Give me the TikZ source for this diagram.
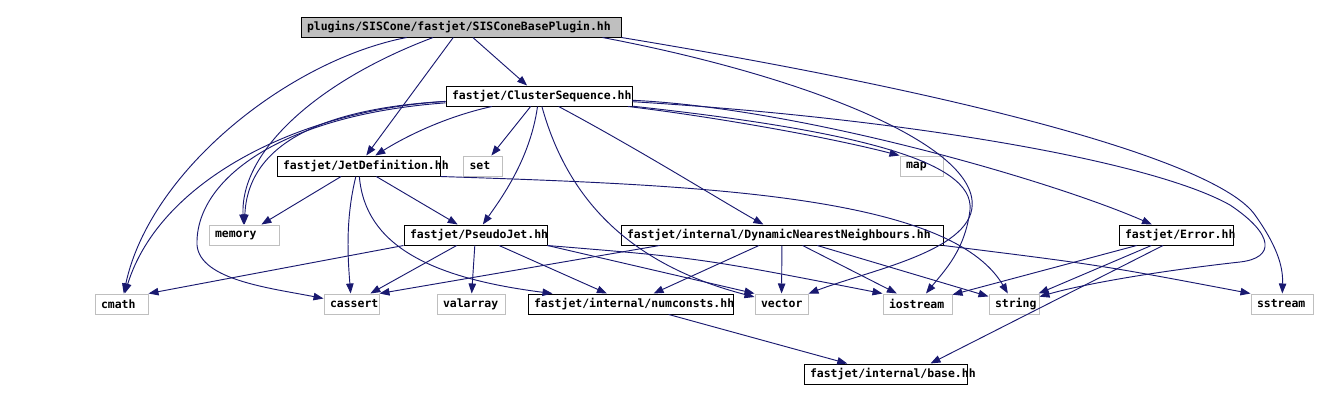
\documentclass[tikz,border=0pt]{standalone}
\usepackage{fontspec}
\usepackage{tikz}
\usetikzlibrary{arrows.meta,calc}
\newfontfamily\graphfont{DejaVu Sans Mono}
\definecolor{depblue}{HTML}{191970}
\definecolor{boxgray}{HTML}{BFBFBF}
\tikzstyle{every node}=[font=\graphfont\bfseries\fontsize{8.6}{10}\selectfont]
\tikzstyle{hfile}=[draw=black,line width=0.75pt,minimum height=15pt,inner xsep=4.5pt,inner ysep=0pt,align=left]
\tikzstyle{srcfile}=[hfile,fill=boxgray]
\tikzstyle{sysfile}=[hfile,draw=boxgray]
\tikzstyle{dep}=[draw=depblue,line width=0.7pt,-{Triangle[length=7.5pt,width=5.6pt]}]
\tikzstyle{every edge}=[dep]

\begin{document}
\begin{tikzpicture}[x=0.75pt,y=-0.75pt]
  \useasboundingbox (0,0) rectangle (1340,401);

  % project headers
  \node[srcfile,text width=231pt]    (S)  at (461,27)  {plugins/SISCone/fastjet/SISConeBasePlugin.hh};
  \node[hfile,text width=130.5pt]    (CS) at (539,96)  {fastjet/ClusterSequence.hh};
  \node[hfile,text width=113.25pt]   (JD) at (358.5,166) {fastjet/JetDefinition.hh};
  \node[hfile,text width=98.25pt]    (PJ) at (475.5,235) {fastjet/PseudoJet.hh};
  \node[hfile,text width=232.5pt]    (DNN) at (782,235) {fastjet/internal/DynamicNearestNeighbours.hh};
  \node[hfile,text width=76.5pt]     (Error) at (1176,235) {fastjet/Error.hh};
  \node[hfile,text width=144.75pt]   (numconsts) at (630.5,304) {fastjet/internal/numconsts.hh};
  \node[hfile,text width=113.25pt]   (base) at (885.5,374) {fastjet/internal/base.hh};

  % system headers
  \node[sysfile,text width=20.25pt] (set)      at (483,166)   {set};
  \node[sysfile,text width=23.25pt] (map)      at (921.5,166) {map};
  \node[sysfile,text width=43.5pt]  (memory)   at (244,235)   {memory};
  \node[sysfile,text width=30.75pt] (cmath)    at (121.5,304) {cmath};
  \node[sysfile,text width=32.25pt] (cassert)  at (351.5,304) {cassert};
  \node[sysfile,text width=42pt]    (valarray) at (471,304)   {valarray};
  \node[sysfile,text width=30.75pt] (vector)   at (781.5,304) {vector};
  \node[sysfile,text width=42.75pt] (iostream) at (917.5,304) {iostream};
  \node[sysfile,text width=28.5pt]  (string)   at (1014,304)  {string};
  \node[sysfile,text width=37.5pt]  (sstream)  at (1282,304)  {sstream};

  % SISConeBasePlugin.hh
  \path (S) edge (CS)
            edge (JD);
  \draw[dep] (S) .. controls (290,60) and (150,170) .. (cmath);
  \draw[dep] (S) .. controls (320,80) and (240,150) .. (memory);
  \draw[dep] ($(S.south east)+(-19,0)$) .. controls (800,75) and (965,140) .. (972,200)
             .. controls (978,250) and (870,270) .. (vector);
  \draw[dep] (S.south east) .. controls (1000,100) and (1220,165) .. (1255,215)
             .. controls (1280,250) and (1283,270) .. (sstream);

  % ClusterSequence.hh
  \path (CS) edge (set);
  \draw[dep] (CS) .. controls (440,118) and (400,140) .. (JD);
  \draw[dep] (CS) .. controls (330,108) and (248,140) .. (memory);
  \draw[dep] (CS) .. controls (300,110) and (160,180) .. (cmath);
  \draw[dep] (CS) .. controls (280,115) and (195,180) .. (197,245)
             .. controls (200,280) and (270,288) .. (cassert);
  \draw[dep] (CS) .. controls (530,160) and (500,200) .. (PJ);
  \draw[dep] (CS) .. controls (565,190) and (620,262) .. (vector);
  \draw[dep] (CS) .. controls (640,150) and (720,200) .. (DNN);
  \draw[dep] (CS) .. controls (700,115) and (820,135) .. (map.north west);
  \draw[dep] (CS) .. controls (800,108) and (1050,180) .. (Error);
  \draw[dep] (CS) .. controls (850,130) and (975,160) .. (970,210)
             .. controls (965,250) and (945,270) .. (iostream);
  \draw[dep] (CS) .. controls (900,118) and (1150,160) .. (1230,205)
             .. controls (1275,235) and (1275,258) .. (1240,262)
             .. controls (1150,272) and (1080,285) .. (string);

  % JetDefinition.hh
  \path (JD) edge (memory)
             edge (PJ);
  \draw[dep] (JD) .. controls (345,220) and (348,260) .. (cassert);
  \draw[dep] (JD) .. controls (365,245) and (430,278) .. ($(numconsts.north west)+(25,0)$);
  \draw[dep] (JD.south east) .. controls (700,185) and (950,195) .. (string);

  % PseudoJet.hh
  \path (PJ) edge (cassert)
             edge (valarray)
             edge (numconsts);
  \draw[dep] (PJ.south west) -- (cmath.north east);
  \draw[dep] (PJ.south east) -- (vector.north west);
  \draw[dep] (PJ.south east) .. controls (700,258) .. (iostream.north west);

  % DynamicNearestNeighbours.hh
  \path (DNN) edge (numconsts)
              edge (vector)
              edge (iostream)
              edge (string);
  \draw[dep] ($(DNN.south west)+(39,0)$) -- (cassert.north east);
  \draw[dep] (DNN.south east) .. controls (1100,265) .. (sstream.north west);

  % Error.hh
  \path (Error) edge (iostream)
                edge (string);
  \draw[dep] ($(Error.south)+(-13,0)$) -- ($(base.north east)+(-37,0)$);

  % numconsts.hh
  \path (numconsts) edge (base);
\end{tikzpicture}
\end{document}
